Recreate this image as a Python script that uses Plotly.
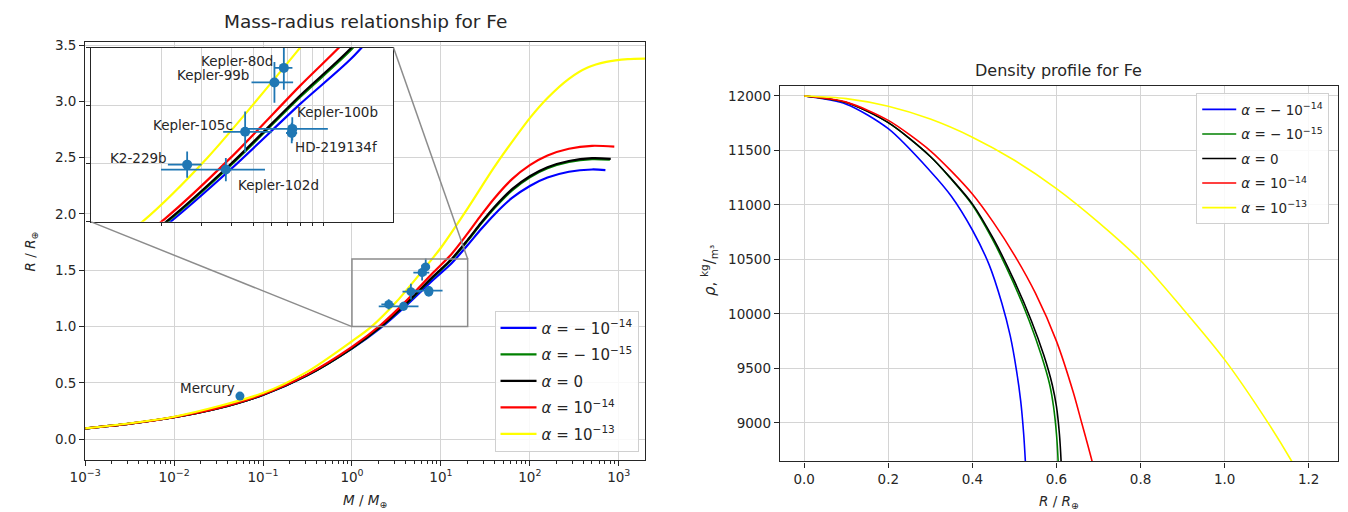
import numpy as np
import plotly.graph_objects as go

W, H = 1348, 512

# ---------------- Mass-radius curves (M in M_earth, R in R_earth) ----------------
M_grid = [0.001, 0.00316, 0.01, 0.0316, 0.1, 0.316, 1, 2.1, 4, 7.94, 13.2, 20, 28.2, 39.8, 63.1, 100, 158, 275, 500]
M_blue = M_grid + [708]
R_blue = [0.095, 0.138, 0.195, 0.275, 0.394, 0.568, 0.804, 0.988, 1.182, 1.406, 1.563, 1.724, 1.864, 1.994, 2.142, 2.249, 2.323, 2.375, 2.395, 2.39]
M_green = M_grid + [795]
R_green = [0.095, 0.138, 0.195, 0.275, 0.395, 0.569, 0.808, 0.997, 1.196, 1.43, 1.594, 1.763, 1.912, 2.051, 2.21, 2.326, 2.406, 2.462, 2.487, 2.482]
M_black = M_grid + [813]
R_black = [0.095, 0.138, 0.195, 0.275, 0.395, 0.57, 0.81, 1.0, 1.2, 1.435, 1.6, 1.77, 1.92, 2.06, 2.22, 2.335, 2.415, 2.47, 2.495, 2.49]
M_red = M_grid + [891]
R_red = [0.096, 0.139, 0.197, 0.278, 0.399, 0.576, 0.82, 1.014, 1.222, 1.469, 1.645, 1.827, 1.987, 2.138, 2.309, 2.433, 2.519, 2.579, 2.605, 2.598]
M_yellow = [0.001, 0.01, 0.1, 0.316, 1, 1.66, 3.16, 7.94, 10, 20, 38.6, 63.1, 102, 158, 275, 447, 724, 1260, 2000, 2500]
R_yellow = [0.097, 0.2, 0.41, 0.6, 0.87, 1.0, 1.22, 1.6, 1.7, 2.05, 2.4, 2.64, 2.86, 3.03, 3.2, 3.3, 3.35, 3.375, 3.38, 3.38]

# ---------------- Density profiles (R in R_earth, rho in kg/m^3) ----------------
r_blue = [0, 0.1, 0.2, 0.3, 0.35, 0.4, 0.44, 0.47, 0.49, 0.505, 0.515, 0.522, 0.526, 0.529, 0.531]
rho_blue = [12000, 11925, 11700, 11310, 11080, 10770, 10450, 10100, 9800, 9480, 9200, 8900, 8650, 8400, 8100]

r_black = [0, 0.1, 0.2, 0.3, 0.35, 0.4, 0.45, 0.5, 0.54, 0.57, 0.59, 0.6, 0.607, 0.611, 0.614]
rho_black = [12000, 11940, 11755, 11445, 11240, 11010, 10690, 10300, 9940, 9620, 9350, 9150, 8900, 8650, 8300]

r_green = [0, 0.1, 0.2, 0.3, 0.349, 0.398, 0.447, 0.496, 0.535, 0.564, 0.584, 0.593, 0.6, 0.604, 0.607]
rho_green = [12000, 11940, 11755, 11445, 11240, 11010, 10690, 10300, 9940, 9620, 9350, 9150, 8900, 8650, 8300]

r_red = [0, 0.1, 0.2, 0.3, 0.35, 0.4, 0.45, 0.5, 0.55, 0.6, 0.64, 0.66, 0.675, 0.69, 0.7]
rho_red = [12000, 11944, 11776, 11497, 11310, 11100, 10840, 10540, 10190, 9750, 9280, 9000, 8790, 8570, 8420]

r_yellow = [0, 0.1, 0.2, 0.3, 0.4, 0.5, 0.6, 0.7, 0.8, 0.9, 1.0, 1.1, 1.16, 1.21]
rho_yellow = [12000, 11976, 11906, 11788, 11622, 11410, 11150, 10840, 10490, 10050, 9580, 9020, 8645, 8300]

alpha_labels = [
    "<i>α</i> = − 10<sup>−14</sup>",
    "<i>α</i> = − 10<sup>−15</sup>",
    "<i>α</i> = 0",
    "<i>α</i> = 10<sup>−14</sup>",
    "<i>α</i> = 10<sup>−13</sup>",
]
line_colors = ["#0000ff", "#008000", "#000000", "#ff0000", "#ffff00"]

# ---------------- Observed planets ----------------
planet_names = ["Mercury", "Kepler-80d", "Kepler-99b", "Kepler-105c", "Kepler-100b", "HD-219134f", "K2-229b", "Kepler-102d"]
planet_M = [0.055, 6.75, 6.15, 4.6, 7.34, 7.3, 2.59, 3.8]
planet_M_plus = [0, 0.6, 1.25, 1.4, 3.1, 0.4, 0.4, 1.8]
planet_M_minus = [0, 0.6, 1.25, 0.9, 2.7, 0.4, 0.45, 1.8]
planet_R = [0.383, 1.53, 1.48, 1.31, 1.32, 1.306, 1.197, 1.18]
planet_R_err = [0, 0.075, 0.07, 0.07, 0.04, 0.035, 0.045, 0.04]

# ---------------- Axis ranges / ticks ----------------
main_xrange = [-3, 3.3]          # log10(M)
main_yrange = [-0.18, 3.53]
main_xexp = [-3, -2, -1, 0, 1, 2, 3]
inset_M = [1, 20]
inset_R = [1.0, 1.6]
inset_xticks = [2, 3, 4, 5, 6, 7, 8, 9, 10]
dens_xrange = [-0.058, 1.27]
dens_yrange = [8645, 12090]

# pixel placement of the axes boxes
main_px = dict(l=70, r=637, t=37, b=459)
inset_px = dict(l=76, r=382, t=43, b=219)
dens_px = dict(l=773, r=1338, t=82, b=461)


def dom_x(p):
    return [p["l"] / W, p["r"] / W]


def dom_y(p):
    return [1 - p["b"] / H, 1 - p["t"] / H]


mr_sets = [(M_blue, R_blue), (M_green, R_green), (M_black, R_black), (M_red, R_red), (M_yellow, R_yellow)]
dens_sets = [(r_blue, rho_blue), (r_green, rho_green), (r_black, rho_black), (r_red, rho_red), (r_yellow, rho_yellow)]

fig = go.Figure()

for i, ((m, r), c, lab) in enumerate(zip(mr_sets, line_colors, alpha_labels)):
    fig.add_trace(go.Scatter(x=m, y=r, mode="lines", line=dict(color=c, width=2.2, shape="spline", smoothing=0.8),
                             name=lab, xaxis="x", yaxis="y", legend="legend", legendgroup=f"mr{i}"))

err_style = dict(type="data", color="#1f77b4", thickness=1.8, width=0)


def planet_trace(xa, ya, size):
    return go.Scatter(
        x=planet_M, y=planet_R, mode="markers", xaxis=xa, yaxis=ya,
        marker=dict(color="#1f77b4", size=size),
        error_x=dict(array=planet_M_plus, arrayminus=planet_M_minus, symmetric=False, **err_style),
        error_y=dict(array=planet_R_err, **err_style),
        showlegend=False, hoverinfo="skip",
    )


fig.add_trace(planet_trace("x", "y", 9))

for i, ((rr, rho), c, lab) in enumerate(zip(dens_sets, line_colors, alpha_labels)):
    fig.add_trace(go.Scatter(x=rr, y=rho, mode="lines", line=dict(color=c, width=1.6, shape="spline", smoothing=0.8),
                             name=lab, xaxis="x2", yaxis="y2", legend="legend2", legendgroup=f"d{i}"))

for (m, r), c in zip(mr_sets, line_colors):
    fig.add_trace(go.Scatter(x=m, y=r, mode="lines", line=dict(color=c, width=2.2, shape="spline", smoothing=0.8),
                             showlegend=False, xaxis="x3", yaxis="y3"))
fig.add_trace(planet_trace("x3", "y3", 10))

axis_common = dict(
    showgrid=True, gridcolor="#d4d4d4", gridwidth=1, zeroline=False,
    showline=True, linecolor="#262626", linewidth=1.2, mirror=True,
    ticks="outside", tickwidth=1, tickcolor="#262626",
    tickfont=dict(family="DejaVu Sans", size=13.5, color="#262626"),
)

fig.update_layout(
    width=W, height=H, autosize=False,
    margin=dict(l=0, r=0, t=0, b=0),
    paper_bgcolor="white", plot_bgcolor="white",
    font=dict(family="DejaVu Sans", color="#262626"),
    xaxis=dict(domain=dom_x(main_px), anchor="y", type="log", range=main_xrange,
               tickmode="array", tickvals=[10.0 ** e for e in main_xexp],
               ticktext=[f"10<sup>{str(e).replace('-', '−')}</sup>" for e in main_xexp],
               ticklen=5,
               minor=dict(ticks="outside", ticklen=3, tickcolor="#262626", showgrid=False,
                          tickmode="array",
                          tickvals=[k * 10.0 ** e for e in main_xexp for k in range(2, 10)]),
               **axis_common),
    yaxis=dict(domain=dom_y(main_px), anchor="x", range=main_yrange, tick0=0, dtick=0.5, tickformat=".1f",
               ticklen=5, **axis_common),
    xaxis2=dict(domain=dom_x(dens_px), anchor="y2", range=dens_xrange, tick0=0, dtick=0.2, tickformat=".1f",
                ticklen=5, **axis_common),
    yaxis2=dict(domain=dom_y(dens_px), anchor="x2", range=dens_yrange, tick0=0, dtick=500, tickformat="d",
                ticklen=5, **axis_common),
    xaxis3=dict(domain=dom_x(inset_px), anchor="y3", type="log", range=[np.log10(inset_M[0]), np.log10(inset_M[1])],
                tickmode="array", tickvals=inset_xticks, showticklabels=False, ticklen=3, **axis_common),
    yaxis3=dict(domain=dom_y(inset_px), anchor="x3", range=inset_R, tick0=1.0, dtick=0.2, showticklabels=False,
                ticklen=4, **axis_common),
    legend=dict(x=630 / W, xanchor="right", y=1 - 451 / H, yanchor="bottom", itemwidth=36,
                bgcolor="rgba(255,255,255,0.85)", bordercolor="#d0d0d0", borderwidth=1,
                font=dict(family="DejaVu Sans", size=15, color="#262626"), tracegroupgap=4),
    legend2=dict(x=1329 / W, xanchor="right", y=1 - 89 / H, yanchor="top", itemwidth=34,
                 bgcolor="rgba(255,255,255,0.85)", bordercolor="#d0d0d0", borderwidth=1,
                 font=dict(family="DejaVu Sans", size=13.5, color="#262626"), tracegroupgap=4),
)


def main_to_paper(M, R):
    dx = dom_x(main_px)
    dy = dom_y(main_px)
    px = dx[0] + (np.log10(M) - main_xrange[0]) / (main_xrange[1] - main_xrange[0]) * (dx[1] - dx[0])
    py = dy[0] + (R - main_yrange[0]) / (main_yrange[1] - main_yrange[0]) * (dy[1] - dy[0])
    return px, py


rx0, ry0 = main_to_paper(inset_M[0], inset_R[0])
rx1, ry1 = main_to_paper(inset_M[1], inset_R[1])
gray = "#8c8c8c"
fig.add_shape(type="rect", xref="paper", yref="paper", x0=rx0, y0=ry0, x1=rx1, y1=ry1,
              line=dict(color=gray, width=1.5), layer="above")
ix = dom_x(inset_px)
iy = dom_y(inset_px)
fig.add_shape(type="line", xref="paper", yref="paper", x0=ix[0], y0=iy[0], x1=rx0, y1=ry0,
              line=dict(color=gray, width=1.5), layer="above")
fig.add_shape(type="line", xref="paper", yref="paper", x0=ix[1], y0=iy[1], x1=rx1, y1=ry1,
              line=dict(color=gray, width=1.5), layer="above")

label_xanchor = ["right", "right", "right", "right", "left", "left", "right", "left"]
label_yanchor = ["bottom", "bottom", "bottom", "bottom", "bottom", "top", "bottom", "top"]
label_dx = [-3, -9, -23, -10, 3, 1, -18, 10]
label_dy = [-2, -3, -3, -3, 7, -4, -3, -5]
for i, name in enumerate(planet_names):
    ref = ("x", "y") if name == "Mercury" else ("x3", "y3")
    fig.add_annotation(x=np.log10(planet_M[i]), y=planet_R[i], xref=ref[0], yref=ref[1], text=name,
                       showarrow=False, xanchor=label_xanchor[i], yanchor=label_yanchor[i],
                       xshift=label_dx[i], yshift=label_dy[i],
                       font=dict(family="DejaVu Sans", size=13.5, color="#262626"))


def ann(x, y, text, size, angle=0):
    fig.add_annotation(x=x / W, y=1 - y / H, xref="paper", yref="paper", text=text, showarrow=False,
                       xanchor="center", yanchor="middle", textangle=angle,
                       font=dict(family="DejaVu Sans", size=size, color="#262626"))


ann((main_px["l"] + main_px["r"]) / 2, 17, "Mass-radius relationship for Fe", 18.5)
ann((dens_px["l"] + dens_px["r"]) / 2, 66, "Density profile for Fe", 16)
ann((main_px["l"] + main_px["r"]) / 2, 501, "<i>M</i> / <i>M</i><sub>⊕</sub>", 13.5)
ann((dens_px["l"] + dens_px["r"]) / 2, 502, "<i>R</i> / <i>R</i><sub>⊕</sub>", 13.5)
ann(15, 249, "<i>R</i> / <i>R</i><sub>⊕</sub>", 13.5, -90)
ann(701, 268, "<i>ρ</i>, <sup>kg</sup>/<sub>m³</sub>", 15, -90)

fig.write_html("out.html")
